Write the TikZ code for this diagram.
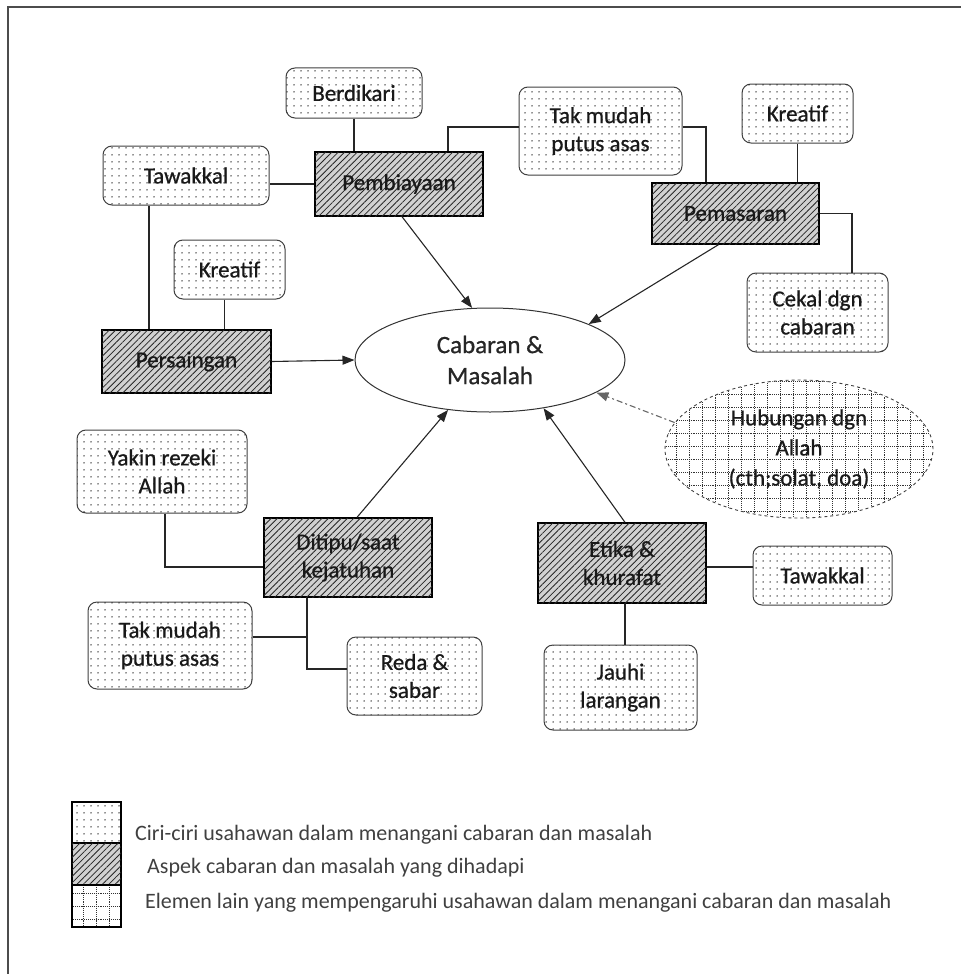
\documentclass[tikz,border=0pt]{standalone}
\usepackage{fontspec}
\setmainfont{Carlito}
\newfontfamily\medfont{Carlito}[FakeBold=0.7]
\usetikzlibrary{arrows.meta,patterns.meta,shapes.geometric}
\begin{document}
\begin{tikzpicture}[x=1pt,y=-1pt,
  txt/.style={font=\medfont\fontsize{23}{28}\selectfont, text=black!90, align=center, inner sep=0pt},
  dotfill/.style={postaction={pattern={Dots[distance=7pt,radius=0.75pt]}, pattern color=black!85}},
  hatchfill/.style={fill=black!18, postaction={pattern={Lines[angle=45,distance=4.5pt,line width=0.8pt]}, pattern color=black!85}},
  gridfill/.style={path picture={\draw[black!80, densely dotted, line width=0.9pt, step=13pt] ([shift={(-20pt,-20pt)}]path picture bounding box.south west) grid ([shift={(20pt,20pt)}]path picture bounding box.north east);}},
  ciri/.style={txt, draw=black!75, line width=1pt, rounded corners=9pt, fill=white, dotfill},
  aspek/.style={txt, draw=black, line width=1.3pt, hatchfill},
  conn/.style={line width=1.1pt, draw=black!85},
  arr/.style={conn, -{Triangle[length=12pt,width=9pt]}},
  legbox/.style={draw=black, line width=1.3pt, minimum width=49pt, inner sep=0pt},
  legtxt/.style={anchor=base west, font=\fontsize{22}{26}\selectfont, text=black!75, inner sep=0pt}
]
\useasboundingbox (0,0) rectangle (961,974);
\draw[line width=2pt, black!70] (8,974) -- (8,7) -- (961,7);

% main ellipse
\node[ellipse, draw=black!80, line width=1pt, minimum width=270pt, minimum height=104pt, inner sep=0pt,
      font=\medfont\fontsize{25}{31}\selectfont, align=center, text=black!85] (cab) at (490,360) {Cabaran \&\\Masalah};

% aspects
\node[aspek, minimum width=168pt, minimum height=64pt] (pemb) at (399,184) {Pembiayaan};
\node[aspek, minimum width=169pt, minimum height=63pt] (pers) at (186.5,361.5) {Persaingan};
\node[aspek, minimum width=167pt, minimum height=61pt] (pema) at (735.5,213.5) {Pemasaran};
\node[aspek, minimum width=168pt, minimum height=79pt] (dit) at (348,557.5) {Ditipu/saat\\kejatuhan};
\node[aspek, minimum width=168pt, minimum height=80pt] (eti) at (622,563) {Etika \&\\khurafat};

% characteristics
\node[ciri, minimum width=136pt, minimum height=50pt] (berd) at (354,93) {Berdikari};
\node[ciri, minimum width=166pt, minimum height=59pt] (tawtl) at (186,175.5) {Tawakkal};
\node[ciri, minimum width=111pt, minimum height=59pt] (krl) at (229.5,269.5) {Kreatif};
\node[ciri, minimum width=163pt, minimum height=88pt] (tmt) at (600.5,131) {Tak mudah\\putus asas};
\node[ciri, minimum width=111pt, minimum height=59pt] (krr) at (797.5,113.5) {Kreatif};
\node[ciri, minimum width=141pt, minimum height=79pt] (cek) at (817.5,312.5) {Cekal dgn\\cabaran};
\node[ciri, minimum width=170pt, minimum height=83pt] (yak) at (162,471.5) {Yakin rezeki\\Allah};
\node[ciri, minimum width=164pt, minimum height=87pt] (tmb) at (170,645.5) {Tak mudah\\putus asas};
\node[ciri, minimum width=135pt, minimum height=78pt] (red) at (414.5,676) {Reda \&\\sabar};
\node[ciri, minimum width=139pt, minimum height=59pt] (tawr) at (822.5,575.5) {Tawakkal};
\node[ciri, minimum width=153pt, minimum height=85pt] (jau) at (620.5,687.5) {Jauhi\\larangan};

% other element
\node[txt, ellipse, draw=black!75, dashed, line width=0.9pt, minimum width=268pt, minimum height=138pt, fill=white, gridfill,
      font=\medfont\fontsize{23}{30}\selectfont] (hub) at (799,449) {Hubungan dgn\\Allah\\(cth;solat, doa)};

% connectors
\draw[conn] (berd.south) -- (berd.south |- pemb.north);
\draw[conn] (pemb.west) -- (pemb.west -| tawtl.east);
\draw[conn] ([xshift=-37pt]tawtl.south) -- ([xshift=-37pt]tawtl.south |- pers.north);
\draw[conn] ([xshift=-5pt]krl.south) -- ([xshift=-5pt]krl.south |- pers.north);
\draw[conn] ([yshift=4pt]tmt.west) -| ([xshift=49pt]pemb.north);
\draw[conn] ([yshift=4pt]tmt.east) -| ([xshift=-29.5pt]pema.north);
\draw[conn] (krr.south) -- (krr.south |- pema.north);
\draw[conn] (pema.east) -| ([xshift=34.5pt]cek.north);
\draw[conn] ([xshift=3pt]yak.south) |- ([yshift=-9.5pt]dit.west);
\coordinate (dj) at ([xshift=-41pt]dit.south);
\draw[conn] (dj) |- ([yshift=7pt]red.west);
\draw[conn] ([yshift=8.5pt]tmb.east) -- ([yshift=8.5pt]tmb.east -| dj);
\draw[conn] ([yshift=-4pt]eti.east) -- ([yshift=-4pt]eti.east -| tawr.west);
\draw[conn] ([xshift=3pt]eti.south) -- ([xshift=3pt]eti.south |- jau.north);

% arrows
\draw[arr] (pers.east) -- (cab.west);
\draw[arr] ([xshift=3pt]pemb.south) -- (cab.109);
\draw[arr] ([xshift=-17pt]pema.south) -- (cab.20);
\draw[arr] ([xshift=9pt]dit.north) -- (cab.230);
\draw[arr] ([xshift=3pt]eti.north) -- (cab.318);
\draw[line width=1.1pt, black!60, dash pattern=on 6pt off 3pt on 2pt off 3pt, -{Triangle[length=12pt,width=9pt]}] (hub.168) -- (cab.343);

% legend
\node[legbox, minimum height=41pt, fill=white, dotfill] (l1) at (96.5,822.5) {};
\node[legbox, minimum height=42pt, hatchfill] (l2) at (96.5,864) {};
\node[legbox, minimum height=42pt, fill=white, gridfill] (l3) at (96.5,906) {};
\node[legtxt] (t1) at (135,840) {Ciri-ciri usahawan dalam menangani cabaran dan masalah};
\node[legtxt] (t2) at (147,873) {Aspek cabaran dan masalah yang dihadapi};
\node[legtxt] (t3) at (145,908) {Elemen lain yang mempengaruhi usahawan dalam menangani cabaran dan masalah};
\end{tikzpicture}
\end{document}
